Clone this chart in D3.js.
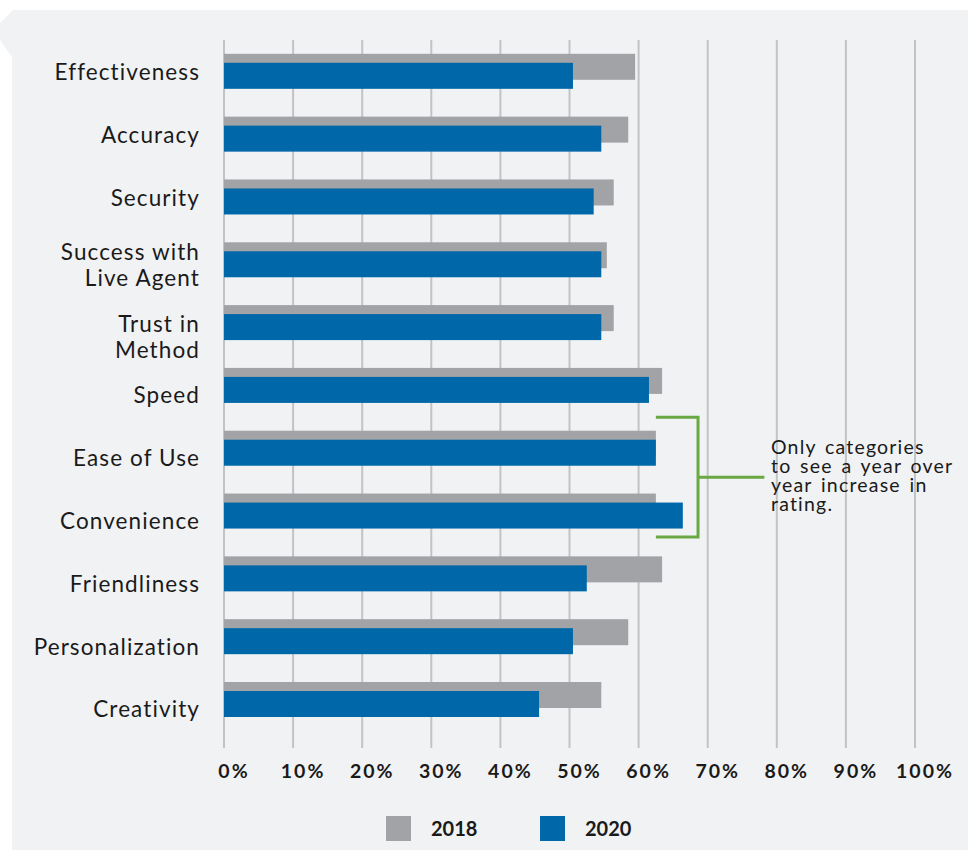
<!DOCTYPE html>
<html>
<head>
<meta charset="utf-8">
<script src="https://cdn.jsdelivr.net/npm/d3@7"></script>
<style>
  html, body { margin: 0; padding: 0; background: #ffffff; }
  svg { display: block; }
</style>
</head>
<body>
<svg id="chart" width="968" height="850"></svg>
<script>
// Ratings by category, share of respondents
const categories = [
  ["Effectiveness"],
  ["Accuracy"],
  ["Security"],
  ["Success with", "Live Agent"],
  ["Trust in", "Method"],
  ["Speed"],
  ["Ease of Use"],
  ["Convenience"],
  ["Friendliness"],
  ["Personalization"],
  ["Creativity"]
];
const values2018 = [59.5, 58.5, 56.4, 55.4, 56.4, 63.4, 62.5, 62.5, 63.4, 58.5, 54.6];
const values2020 = [50.5, 54.6, 53.5, 54.6, 54.6, 61.5, 62.5, 66.4, 52.5, 50.5, 45.6];
const tickValues = [0, 10, 20, 30, 40, 50, 60, 70, 80, 90, 100];
const seriesNames = ["2018", "2020"];
const annotationLines = ["Only categories", "to see a year over", "year increase in", "rating."];
const highlighted = ["Ease of Use", "Convenience"];

const COLORS = { y2018: "#a2a3a6", y2020: "#0067a8", grid: "#c2c3c5", panel: "#f1f2f4", green: "#6aa843", text: "#1a1a1a" };
const FONT = "Lato, 'Open Sans', sans-serif";

const svg = d3.select("#chart");
const keys = categories.map(c => c.join(" "));

// background panel with the small tab on its upper-left edge
svg.append("path")
  .attr("d", "M13,10 L968,10 L968,850 L12,850 L12,57 L0,40 L0,23 Z")
  .attr("fill", COLORS.panel);

const x = d3.scaleLinear().domain([0, 100]).range([224, 915]);
const y = d3.scaleBand().domain(keys).range([40, 731]).paddingInner(0.44).paddingOuter(0.22);
const barH = 26, barShift = 9;
const groupH = barShift + barH;

// vertical gridlines running past the last row as tick marks
svg.append("g").selectAll("line")
  .data(tickValues).join("line")
  .attr("x1", d => x(d)).attr("x2", d => x(d))
  .attr("y1", 40).attr("y2", 748)
  .attr("stroke", COLORS.grid).attr("stroke-width", 2);

// 2018 bars
svg.append("g").selectAll("rect")
  .data(keys).join("rect")
  .attr("x", x(0))
  .attr("y", d => y(d))
  .attr("width", (d, i) => x(values2018[i]) - x(0))
  .attr("height", barH)
  .attr("fill", COLORS.y2018);

// 2020 bars, offset below the 2018 bars
svg.append("g").selectAll("rect")
  .data(keys).join("rect")
  .attr("x", x(0))
  .attr("y", d => y(d) + barShift)
  .attr("width", (d, i) => x(values2020[i]) - x(0))
  .attr("height", barH)
  .attr("fill", COLORS.y2020);

// category labels; rows below the two-line labels sit a little lower
const lineH = 26;
const labelShift = i => (i < 3 ? 1 : i === 3 ? 5 : i === 4 ? 14.5 : 10);
const cat = svg.append("g")
  .attr("font-family", FONT).attr("font-size", 22.5).attr("fill", COLORS.text)
  .attr("letter-spacing", 1.1)
  .attr("text-anchor", "end");
categories.forEach((lines, i) => {
  const cy = y(keys[i]) + groupH / 2 + labelShift(i);
  const t = cat.append("text");
  lines.forEach((ln, j) => {
    t.append("tspan")
      .attr("x", 200)
      .attr("y", cy + (j - (lines.length - 1) / 2) * lineH)
      .attr("dy", "0.35em")
      .text(ln);
  });
});

// x axis labels
svg.append("g")
  .attr("font-family", FONT).attr("font-size", 19.5).attr("font-weight", 700).attr("fill", COLORS.text)
  .attr("letter-spacing", 2)
  .attr("text-anchor", "middle")
  .selectAll("text").data(tickValues).join("text")
  .attr("x", d => x(d) + 10)
  .attr("y", 778)
  .text(d => d + "%");

// bracket around the categories that improved
const bracketTop = y(highlighted[0]) - 13.5;
const bracketBottom = y(highlighted[1]) + groupH + 8.5;
const bracketX = x(68.6);
const bracketMid = (bracketTop + bracketBottom) / 2;
svg.append("path")
  .attr("d", `M${x(62.5)},${bracketTop} H${bracketX} V${bracketBottom} H${x(62.5)} M${bracketX},${bracketMid} H${x(78.2)}`)
  .attr("fill", "none").attr("stroke", COLORS.green).attr("stroke-width", 3);

svg.append("text")
  .attr("font-family", FONT).attr("font-size", 19.5).attr("fill", COLORS.text)
  .attr("letter-spacing", 1.2).attr("word-spacing", 2.5)
  .selectAll("tspan").data(annotationLines).join("tspan")
  .attr("x", 771)
  .attr("y", (d, i) => 454 + i * 19)
  .text(d => d);

// legend
const legend = svg.append("g")
  .attr("font-family", FONT).attr("font-size", 20).attr("font-weight", 700).attr("fill", COLORS.text);
const legendX = [386, 540];
seriesNames.forEach((name, i) => {
  legend.append("rect")
    .attr("x", legendX[i]).attr("y", 816).attr("width", 25).attr("height", 25)
    .attr("fill", i === 0 ? COLORS.y2018 : COLORS.y2020);
  legend.append("text")
    .attr("x", legendX[i] + 45).attr("y", 836).text(name);
});
</script>
</body>
</html>
